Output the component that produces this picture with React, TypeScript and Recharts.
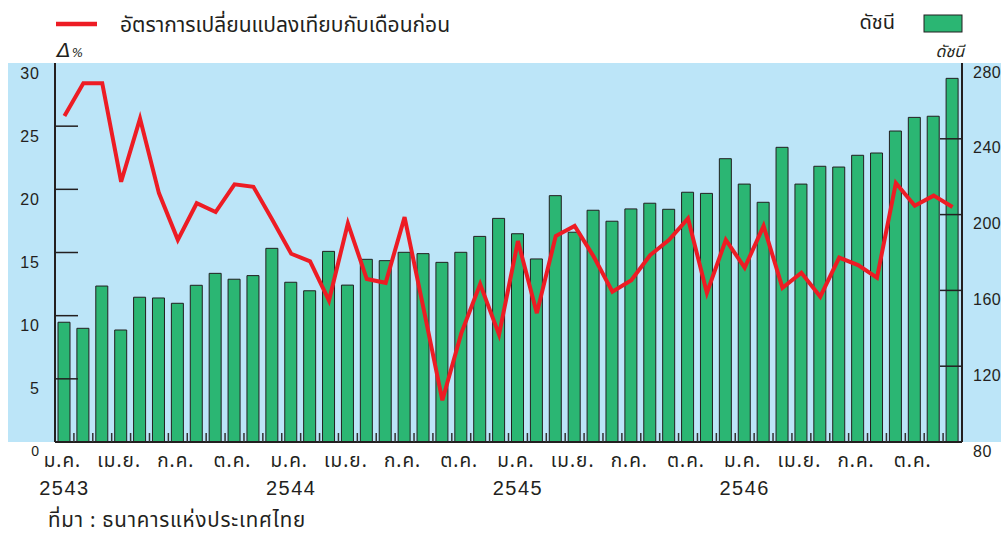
import React from "react";
import { ComposedChart, Bar, Line, XAxis, YAxis } from "recharts";

const years = ["2543", "2544", "2545", "2546"];
const monthNames = [
  "ม.ค.", "ก.พ.", "มี.ค.", "เม.ย.", "พ.ค.", "มิ.ย.",
  "ก.ค.", "ส.ค.", "ก.ย.", "ต.ค.", "พ.ย.", "ธ.ค.",
];
const labelMonths = ["ม.ค.", "เม.ย.", "ก.ค.", "ต.ค."];

// ดัชนี (right axis)
const indexValues = [
  143.2, 140.0, 162.3, 139.1, 156.4, 156.0, 153.2, 162.7, 169.0, 165.9, 167.8, 182.2,
  164.3, 159.8, 180.6, 162.8, 176.4, 175.7, 180.1, 179.4, 174.8, 180.1, 188.5, 198.0,
  189.9, 176.6, 210.0, 190.7, 202.3, 196.5, 203.0, 206.0, 202.8, 211.8, 211.2, 229.5,
  216.1, 206.5, 235.5, 216.1, 225.5, 225.1, 231.3, 232.5, 244.1, 251.3, 251.9, 271.9,
];

// อัตราการเปลี่ยนแปลง (left axis, %)
const changeRates = [
  25.8, 28.4, 28.4, 20.6, 25.6, 19.7, 16.0, 18.9, 18.2, 20.4, 20.2, 17.6,
  14.9, 14.3, 11.2, 17.3, 12.9, 12.6, 17.8, 10.6, 3.3, 8.6, 12.5, 8.5,
  15.9, 10.2, 16.3, 17.1, 14.7, 11.9, 12.8, 14.8, 16.0, 17.7, 11.8, 16.0,
  13.8, 17.1, 12.2, 13.4, 11.5, 14.6, 14.0, 13.0, 20.5, 18.7, 19.5, 18.6,
];

const leftTicks = [0, 5, 10, 15, 20, 25, 30];
const rightTicks = [80, 120, 160, 200, 240, 280];

const data = indexValues.map((v, i) => ({
  month: monthNames[i % 12] + " " + years[Math.floor(i / 12)],
  index: v,
  change: changeRates[i],
}));

const THAI = '"Noto Sans Thai", "Noto Sans Thai UI", Loma, Garuda, "Liberation Sans", sans-serif';
const NUM = '"Liberation Sans", Arial, sans-serif';
const BLUE = "#bce5f8";
const GREEN = "#2bb673";
const RED = "#ed1c24";
const INK = "#231f20";

const LeftTick = (props: any) => {
  const { x, y, payload } = props;
  const zero = payload.value === 0;
  return (
    <g>
      {payload.value > 0 && payload.value < 30 && (
        <line x1={x} x2={x + 23} y1={y} y2={y} stroke={INK} strokeWidth={1.5} />
      )}
      <text x={x - 15} y={y + (zero ? 9 : 10)} textAnchor="end" dominantBaseline="central"
        fontFamily={NUM} fontSize={zero ? 14 : 16} letterSpacing={1} fill={INK}>
        {payload.value}
      </text>
    </g>
  );
};

const RightTick = (props: any) => {
  const { x, y, payload } = props;
  return (
    <g>
      {payload.value > 80 && payload.value < 280 && (
        <line x1={x - 22} x2={x} y1={y} y2={y} stroke={INK} strokeWidth={1.5} />
      )}
      <text x={x + 11} y={y + 9} textAnchor="start" dominantBaseline="central"
        fontFamily={NUM} fontSize={16} letterSpacing={0.5} fill={INK}>
        {payload.value}
      </text>
    </g>
  );
};

const MonthTick = (props: any) => {
  const { x, y, payload, index, width, visibleTicksCount } = props;
  const count = visibleTicksCount || data.length;
  const band = width && count ? width / count : 18.9;
  const [m, yr] = String(payload.value).split(" ");
  return (
    <g>
      {index < count - 1 && (
        <line x1={x + band / 2} x2={x + band / 2} y1={y} y2={y - 9} stroke="#333" strokeWidth={1.5} />
      )}
      {labelMonths.includes(m) && (
        <text x={x - 2} y={y + 19} textAnchor="middle" dominantBaseline="central"
          fontFamily={THAI} fontSize={19} letterSpacing={1} fill={INK}>
          {m}
        </text>
      )}
      {m === "ม.ค." && (
        <text x={x} y={y + 46} textAnchor="middle" dominantBaseline="central"
          fontFamily={NUM} fontSize={20} letterSpacing={1.5} fill={INK}>
          {yr}
        </text>
      )}
    </g>
  );
};

export default function App() {
  return (
    <div style={{ position: "absolute", left: 0, top: 0, width: 1001, height: 535, background: "#fff" }}>
      <div style={{ position: "absolute", left: 8, top: 63, width: 993, height: 379, background: BLUE }} />
      <svg width={1001} height={72} style={{ position: "absolute", left: 0, top: 0 }}>
        <line x1={56} x2={97} y1={24} y2={24} stroke={RED} strokeWidth={4.5} />
        <text x={120} y={25} dominantBaseline="central" fontFamily={THAI} fontSize={21} fill={INK}>
          อัตราการเปลี่ยนแปลงเทียบกับเดือนก่อน
        </text>
        <text x={895} y={23} textAnchor="end" dominantBaseline="central" fontFamily={THAI} fontSize={20} fill={INK}>
          ดัชนี
        </text>
        <rect x={924} y={15} width={38} height={17} fill={GREEN} stroke={INK} strokeWidth={1} />
        <text x={57} y={57} fontFamily="'DejaVu Sans', sans-serif" fontStyle="italic" fontSize={20} fill={INK}>
          Δ<tspan fontSize={12} dx={1}>%</tspan>
        </text>
        <text x={964} y={52} textAnchor="end" dominantBaseline="central" fontFamily={THAI} fontStyle="italic" fontSize={16} fill={INK}>
          ดัชนี
        </text>
      </svg>
      <ComposedChart
        width={1001}
        height={535}
        data={data}
        margin={{ top: 63, right: 0, bottom: 33, left: 0 }}
        style={{ position: "absolute", left: 0, top: 0 }}
      >
        <XAxis
          dataKey="month"
          xAxisId="bottom"
          height={60}
          interval={0}
          tickSize={0}
          tickMargin={0}
          tickLine={false}
          tick={<MonthTick />}
          axisLine={{ stroke: INK, strokeWidth: 2 }}
        />
        <XAxis
          dataKey="month"
          xAxisId="top"
          orientation="top"
          height={0}
          tick={false}
          tickLine={false}
          axisLine={{ stroke: "#444", strokeWidth: 1.5 }}
        />
        <YAxis
          yAxisId="left"
          orientation="left"
          width={55}
          domain={[0, 30]}
          ticks={leftTicks}
          interval={0}
          tickSize={0}
          tickMargin={0}
          tickLine={false}
          tick={<LeftTick />}
          axisLine={{ stroke: INK, strokeWidth: 2 }}
        />
        <YAxis
          yAxisId="right"
          orientation="right"
          width={39}
          domain={[80, 280]}
          ticks={rightTicks}
          interval={0}
          tickSize={0}
          tickMargin={0}
          tickLine={false}
          tick={<RightTick />}
          axisLine={{ stroke: INK, strokeWidth: 2 }}
        />
        <Bar
          dataKey="index"
          xAxisId="bottom"
          yAxisId="right"
          barSize={12}
          fill={GREEN}
          stroke={INK}
          strokeWidth={1}
          isAnimationActive={false}
        />
        <Line
          dataKey="change"
          xAxisId="bottom"
          yAxisId="left"
          type="linear"
          stroke={RED}
          strokeWidth={4}
          dot={false}
          activeDot={false}
          isAnimationActive={false}
        />
      </ComposedChart>
      <svg width={400} height={40} style={{ position: "absolute", left: 0, top: 495 }}>
        <text x={48} y={25} dominantBaseline="central" fontFamily={THAI} fontSize={20.5} letterSpacing={0.8} fill={INK}>
          ที่มา : ธนาคารแห่งประเทศไทย
        </text>
      </svg>
    </div>
  );
}
